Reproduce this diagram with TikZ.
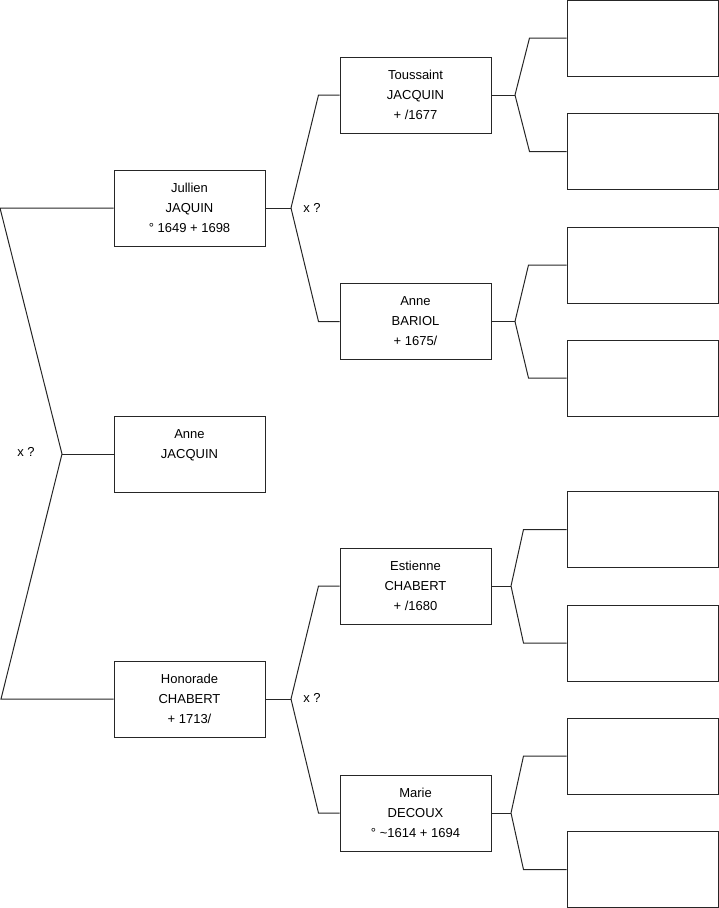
\documentclass[tikz,border=0pt]{standalone}
\usepackage{fontspec}
\setmainfont{Liberation Sans}
\usepackage{tikz}

\begin{document}
\begin{tikzpicture}[
  x=1pt,y=-1pt,
  person/.style={draw=black!85,line width=1pt,align=center,minimum width=151pt,minimum height=76pt,
    inner sep=0pt,font=\fontsize{13}{20}\selectfont},
  empty/.style={person},
  link/.style={draw=black!85,line width=1pt},
  union/.style={font=\fontsize{13}{20}\selectfont,inner sep=0pt}
]
  \useasboundingbox (0,0) rectangle (719,908);
  % generation 1
  \node[person] (jullien) at (189.5,208) {Jullien\\JAQUIN\\° 1649 + 1698};
  \node[person] (anne) at (189.5,454) {Anne\\JACQUIN\\\mbox{}};
  \node[person] (honorade) at (189.5,699) {Honorade\\CHABERT\\+ 1713/};
  % generation 2
  \node[person] (toussaint) at (415.5,95) {Toussaint\\JACQUIN\\+ /1677};
  \node[person] (bariol) at (415.5,321.5) {Anne\\BARIOL\\+ 1675/};
  \node[person] (estienne) at (415.5,586) {Estienne\\CHABERT\\+ /1680};
  \node[person] (marie) at (415.5,813) {Marie\\DECOUX\\° \textasciitilde1614 + 1694};
  % generation 3 (unknown)
  \node[empty] (tj1) at (642.5,38) {};
  \node[empty] (tj2) at (642.5,151.5) {};
  \node[empty] (ab1) at (642.5,265) {};
  \node[empty] (ab2) at (642.5,378) {};
  \node[empty] (ec1) at (642.5,529.5) {};
  \node[empty] (ec2) at (642.5,643) {};
  \node[empty] (md1) at (642.5,756) {};
  \node[empty] (md2) at (642.5,869.5) {};
  % unions
  \node[union] (u0) at (26,452) {x ?};
  \node[union] (u1) at (312,208) {x ?};
  \node[union] (u2) at (312,698) {x ?};
  % bracket points
  \coordinate (top0) at (0,208);
  \coordinate (fork0) at (62,454);
  \coordinate (bot0) at (1,699);
  \coordinate (fork1) at (291,208);
  \coordinate (fork2) at (291,699);
  \coordinate (fork3) at (515,95);
  \coordinate (fork4) at (515,321.5);
  \coordinate (fork5) at (511,586);
  \coordinate (fork6) at (511,813);
  % left bracket
  \draw[link] (jullien.west) -- (top0) -- (fork0) -- (bot0) -- (honorade.west);
  \draw[link] (fork0) -- (anne.west);
  % middle brackets
  \draw[link] (jullien.east) -- (fork1);
  \draw[link] (fork1) -- ([xshift=-21pt]toussaint.west) -- (toussaint.west);
  \draw[link] (fork1) -- ([xshift=-21pt]bariol.west) -- (bariol.west);
  \draw[link] (honorade.east) -- (fork2);
  \draw[link] (fork2) -- ([xshift=-21pt]estienne.west) -- (estienne.west);
  \draw[link] (fork2) -- ([xshift=-21pt]marie.west) -- (marie.west);
  % right brackets
  \draw[link] (toussaint.east) -- (fork3);
  \draw[link] (fork3) -- ([xshift=-37pt]tj1.west) -- (tj1.west);
  \draw[link] (fork3) -- ([xshift=-37pt]tj2.west) -- (tj2.west);
  \draw[link] (bariol.east) -- (fork4);
  \draw[link] (fork4) -- ([xshift=-38pt]ab1.west) -- (ab1.west);
  \draw[link] (fork4) -- ([xshift=-38pt]ab2.west) -- (ab2.west);
  \draw[link] (estienne.east) -- (fork5);
  \draw[link] (fork5) -- ([xshift=-43pt]ec1.west) -- (ec1.west);
  \draw[link] (fork5) -- ([xshift=-43pt]ec2.west) -- (ec2.west);
  \draw[link] (marie.east) -- (fork6);
  \draw[link] (fork6) -- ([xshift=-43pt]md1.west) -- (md1.west);
  \draw[link] (fork6) -- ([xshift=-43pt]md2.west) -- (md2.west);
\end{tikzpicture}
\end{document}
